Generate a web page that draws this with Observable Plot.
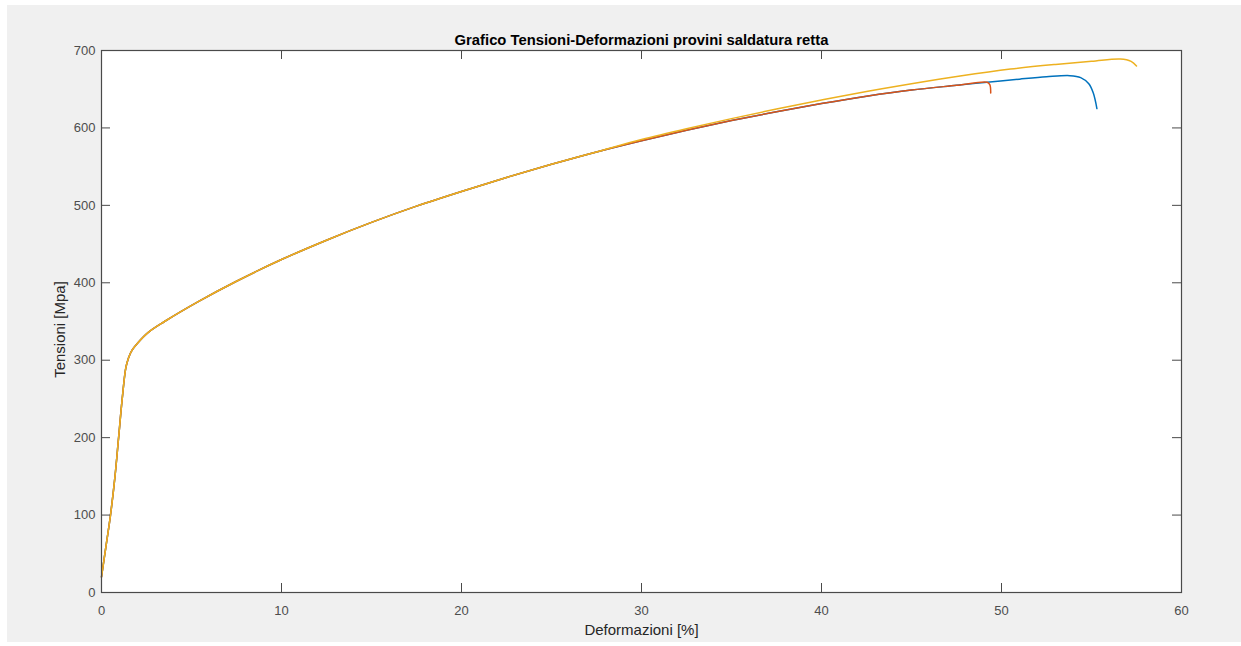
<!DOCTYPE html>
<html>
<head>
<meta charset="utf-8">
<script src="https://cdn.jsdelivr.net/npm/d3@7"></script>
<script src="https://cdn.jsdelivr.net/npm/@observablehq/plot@0.6"></script>
<style>
  html, body { margin: 0; padding: 0; background: #ffffff; }
  #panel { position: absolute; left: 7px; top: 5px; width: 1234px; height: 637px; background: #f0f0f0; }
  #chart { position: absolute; left: 0; top: 0; }
  #chart svg { background: transparent; }
</style>
</head>
<body>
<div id="panel"></div>
<div id="chart"></div>
<script>
// Shared initial part of the curves (strain %, stress MPa)
const baseStrain = [0, 0.25, 0.5, 0.75, 0.95, 1.15, 1.35, 1.5, 1.7, 2.0, 2.6, 3.5, 5.4, 7.5, 10, 12.5, 15, 17.5, 20, 22.5, 25, 27.5];
const baseStress = [20, 60, 100, 150, 200, 250, 290, 303, 313, 322, 336, 350, 376, 402, 430, 455, 478, 499, 518, 536, 553, 569];

// Series 1 (blue) tail
const blueStrain = [30, 32.5, 35, 37.5, 40, 42.5, 45, 47.5, 49.2, 51, 52.5, 53.8, 54.4, 54.85, 55.1, 55.3];
const blueStress = [583.5, 597, 609.5, 621, 631.5, 641, 649, 655, 659, 663, 666, 667.5, 665, 657, 645, 625];

// Series 2 (orange) tail
const orangeStrain = [30, 32.5, 35, 37.5, 40, 42.5, 45, 47.5, 49.2, 49.35, 49.4];
const orangeStress = [583.5, 597, 609.5, 621, 631.5, 641, 649, 655, 659, 656, 645];

// Series 3 (yellow) tail
const yellowStrain = [30, 32.5, 35, 37.5, 40, 42.5, 45, 47.7, 50.5, 53, 55, 56.6, 57.2, 57.5];
const yellowStress = [585, 599, 612, 624.5, 636, 647, 657, 667, 676, 682, 686, 689, 686, 680];

const seriesNames = ["Provino 1", "Provino 2", "Provino 3"];
const seriesColors = ["#0072BD", "#D95319", "#EDB120"];

const xTicks = [0, 10, 20, 30, 40, 50, 60];
const yTicks = [0, 100, 200, 300, 400, 500, 600, 700];

const titleText = "Grafico Tensioni-Deformazioni provini saldatura retta";
const xLabel = "Deformazioni [%]";
const yLabel = "Tensioni [Mpa]";

const tails = [[blueStrain, blueStress], [orangeStrain, orangeStress], [yellowStrain, yellowStress]];
const rows = [];
tails.forEach(([xs, ys], i) => {
  baseStrain.forEach((x, j) => rows.push({series: seriesNames[i], x, y: baseStress[j]}));
  xs.forEach((x, j) => rows.push({series: seriesNames[i], x, y: ys[j]}));
});

const W = 1241, H = 646;
const mL = 101, mR = 60, mT = 50, mB = 54;
const innerW = W - mL - mR, innerH = H - mT - mB;
const tickLen = 9;
const axisColor = "#4a4a4a";
const font = "'Liberation Sans', Arial, Helvetica, sans-serif";

const chart = Plot.plot({
  width: W,
  height: H,
  marginLeft: mL, marginRight: mR, marginTop: mT, marginBottom: mB,
  style: {fontFamily: font, fontSize: "13px", color: "#4d4d4d", background: "transparent"},
  x: {domain: [0, 60], ticks: xTicks, label: null},
  y: {domain: [0, 700], ticks: yTicks, label: null},
  color: {domain: seriesNames, range: seriesColors},
  marks: [
    Plot.frame({fill: "white", stroke: null}),
    Plot.line(rows, {x: "x", y: "y", z: "series", stroke: "series", strokeWidth: 1.5, curve: "catmull-rom"}),
    // inward ticks on all four sides
    Plot.tickX(xTicks, {x: d => d, stroke: axisColor, insetTop: innerH - tickLen}),
    Plot.tickX(xTicks, {x: d => d, stroke: axisColor, insetBottom: innerH - tickLen}),
    Plot.tickY(yTicks, {y: d => d, stroke: axisColor, insetRight: innerW - tickLen}),
    Plot.tickY(yTicks, {y: d => d, stroke: axisColor, insetLeft: innerW - tickLen}),
    Plot.frame({stroke: axisColor, strokeWidth: 1.2}),
    Plot.axisX({ticks: xTicks, tickSize: 0, tickPadding: 13, fill: "#4d4d4d", fontSize: 13, label: null}),
    Plot.axisY({ticks: yTicks, tickSize: 0, tickPadding: 6, fill: "#4d4d4d", fontSize: 13, label: null}),
    Plot.text([titleText], {frameAnchor: "top", dy: -16, fontWeight: "bold", fontSize: 14.8, fill: "#000"}),
    Plot.text([xLabel], {frameAnchor: "bottom", dy: 42, fontSize: 15, fill: "#262626"}),
    Plot.text([yLabel], {frameAnchor: "left", textAnchor: "middle", dx: -41, dy: 8, rotate: -90, fontSize: 15, fill: "#262626"})
  ]
});
document.getElementById("chart").appendChild(chart);
</script>
</body>
</html>
